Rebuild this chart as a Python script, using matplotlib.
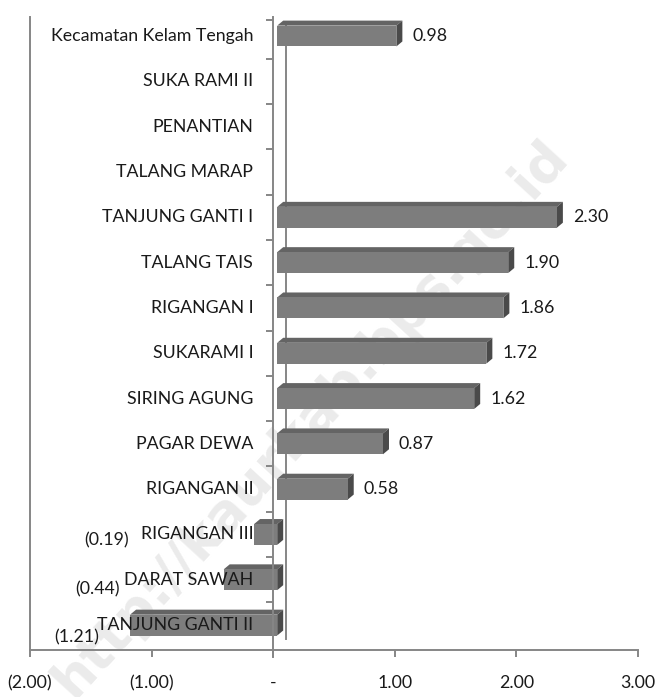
import numpy as np
import matplotlib
matplotlib.use("Agg")
import matplotlib.pyplot as plt
from matplotlib.patches import Polygon

plt.rcParams['font.family'] = ['Lato', 'DejaVu Sans']

# data (top to bottom)
desa = ["Kecamatan Kelam Tengah", "SUKA RAMI II", "PENANTIAN", "TALANG MARAP",
        "TANJUNG GANTI I", "TALANG TAIS", "RIGANGAN I", "SUKARAMI I",
        "SIRING AGUNG", "PAGAR DEWA", "RIGANGAN II", "RIGANGAN III",
        "DARAT SAWAH", "TANJUNG GANTI II"]
nilai = [0.98, np.nan, np.nan, np.nan, 2.30, 1.90, 1.86, 1.72,
         1.62, 0.87, 0.58, -0.19, -0.44, -1.21]
x_ticks = [-2, -1, 0, 1, 2, 3]

# where the negative value labels sit (right edge, x in data units)
neg_label_x = {11: -1.19, 12: -1.26, 13: -1.43}
neg_label_dy = {11: 0.14, 12: 0.22, 13: 0.28}

grey = "#868686"
front = "#7d7d7d"
top = "#646464"
side = "#4a4a4a"
fs = 12.8

fig = plt.figure(figsize=(6.59, 6.97), dpi=100)
ax = fig.add_axes([30/659, 1-650/697, 608/659, 633/697])
ax.set_xlim(-2, 3)
ax.set_ylim(13.55, -0.42)

def px(dx, dy):
    inv = ax.transData.inverted()
    a = inv.transform((0, 0))
    b = inv.transform((dx, dy))
    return b - a

off_x = px(4, 0)[0]
dep_x, dep_y = px(6, 5)
h = 0.46

# watermark
ax.text(0.31, 8.45, "http://kaurkab.bps.go.id", rotation=47.5, fontsize=38.5,
        fontweight="bold", color="#ebebeb", ha="center", va="center",
        zorder=0, family="DejaVu Sans")

# back wall line
ax.plot([px(13, 0)[0]]*2, [-0.32, 13.3], color=grey, lw=1.4, zorder=1)

for i, v in enumerate(nilai):
    if np.isnan(v):
        continue
    x0 = min(v, 0) + off_x
    x1 = max(v, 0) + off_x
    yt = i - h/2
    yb = i + h/2
    ax.add_patch(Polygon([(x0, yt), (x1, yt), (x1 + dep_x, yt + dep_y),
                          (x0 + dep_x, yt + dep_y)], closed=True,
                         facecolor=top, edgecolor="none", zorder=3))
    ax.add_patch(Polygon([(x1, yt), (x1 + dep_x, yt + dep_y),
                          (x1 + dep_x, yb + dep_y), (x1, yb)], closed=True,
                         facecolor=side, edgecolor="none", zorder=3))
    ax.barh(i, v, left=off_x, height=h, color=front, zorder=4)
    if v >= 0:
        ax.text(v + px(20, 0)[0], i, f"{v:.2f}", ha="left", va="center",
                fontsize=fs, color="#1a1a1a")
    else:
        ax.text(neg_label_x[i], i + neg_label_dy[i], f"({abs(v):.2f})",
                ha="right", va="center", fontsize=fs, color="#1a1a1a",
                zorder=6)

# category names next to the zero axis
for i, name in enumerate(desa):
    ax.text(px(-20, 0)[0], i, name, ha="right", va="center", fontsize=fs,
            color="#1a1a1a", zorder=5)

# category axis with left ticks
ax.plot([0, 0], [-0.42, 13.7], color=grey, lw=1.4, zorder=5, clip_on=False)
bounds = [-0.35] + [i + 0.5 for i in range(13)]
ax.plot([0]*len(bounds), bounds, linestyle="none", marker=0, markersize=5,
        markeredgewidth=1.4, color=grey, zorder=5)

for s in ["top", "right"]:
    ax.spines[s].set_visible(False)
for s in ["left", "bottom"]:
    ax.spines[s].set_color(grey)
    ax.spines[s].set_linewidth(1.4)
ax.set_yticks([])

def fmt(t):
    if t == 0:
        return "-"
    if t < 0:
        return f"({abs(t):.2f})"
    return f"{t:.2f}"

ax.set_xticks(x_ticks)
ax.set_xticklabels([fmt(t) for t in x_ticks])
ax.tick_params(axis="x", length=5, width=1.4, color=grey, pad=13,
               labelsize=fs, labelcolor="#1a1a1a")

fig.savefig("out.png", dpi=100)
